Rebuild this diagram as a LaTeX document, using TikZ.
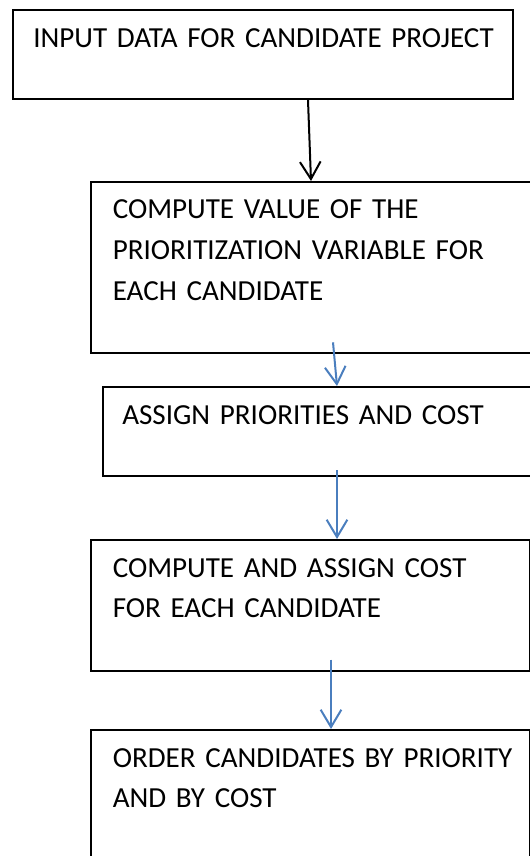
\documentclass[tikz,border=0pt]{standalone}
\usepackage{fontspec}
\setmainfont{Carlito}
\usetikzlibrary{arrows.meta,calc}
\definecolor{flowblue}{RGB}{74,126,190}
% label font with slightly tighter word spacing
\newcommand\steplabelfont{\fontsize{21.8}{30.6}\selectfont\spaceskip=0.19em\relax}
\begin{document}
\begin{tikzpicture}[x=0.75pt,y=-0.75pt,
  stepbox/.style={draw=black,line width=1.5pt,rectangle,inner sep=0pt,anchor=north west},
  steptext/.style={anchor=base west,inner sep=0pt,align=left,text width=420pt,
    font=\steplabelfont},
  flowarrow/.style={line width=1.5pt,-{Straight Barb[length=13pt,width=15.5pt,line width=1.5pt]}}]
\useasboundingbox (0,0) rectangle (530,856);
\clip (0,0) rectangle (530,856);
% boxes (size in px: width x height)
\node[stepbox,minimum width=375pt,minimum height=66.5pt] (b1) at (12,9.5) {};
\node[stepbox,minimum width=333pt,minimum height=128.5pt] (b2) at (90,181) {};
\node[stepbox,minimum width=325pt,minimum height=67pt] (b3) at (101.5,386) {};
\node[stepbox,minimum width=329.6pt,minimum height=98pt] (b4) at (90,539) {};
\node[stepbox,minimum width=329.6pt,minimum height=120pt] (b5) at (90,729) {};
% labels
\node[steptext] (t1) at ($(b1.north west)+(21,38.5)$) {INPUT DATA FOR CANDIDATE PROJECT};
\node[steptext] (t2) at ($(b2.north west)+(22.5,37.5)$) {COMPUTE VALUE OF THE\\PRIORITIZATION VARIABLE FOR\\EACH CANDIDATE};
\node[steptext] (t3) at ($(b3.north west)+(20.5,38)$) {ASSIGN PRIORITIES AND COST};
\node[steptext] (t4) at ($(b4.north west)+(22.5,38)$) {COMPUTE AND ASSIGN COST\\FOR EACH CANDIDATE};
\node[steptext] (t5) at ($(b5.north west)+(22.5,38)$) {ORDER CANDIDATES BY PRIORITY\\AND BY COST};
% connectors
\draw[flowarrow,draw=black] ($(b1.south west)+(296,0)$) -- ($(b2.north west)+(221,0)$);
\coordinate (s2) at ($(b2.south west)+(243,-12)$);
\coordinate (s3) at ($(b3.south west)+(235.5,-7)$);
\coordinate (s4) at ($(b4.south west)+(241,-12)$);
\draw[flowarrow,draw=flowblue] (s2) -- ($(b3.north west)+(235.5,0)$);
\draw[flowarrow,draw=flowblue] (s3) -- ($(b4.north west)+(247,0)$);
\draw[flowarrow,draw=flowblue] (s4) -- ($(b5.north west)+(241,0)$);
\end{tikzpicture}
\end{document}
